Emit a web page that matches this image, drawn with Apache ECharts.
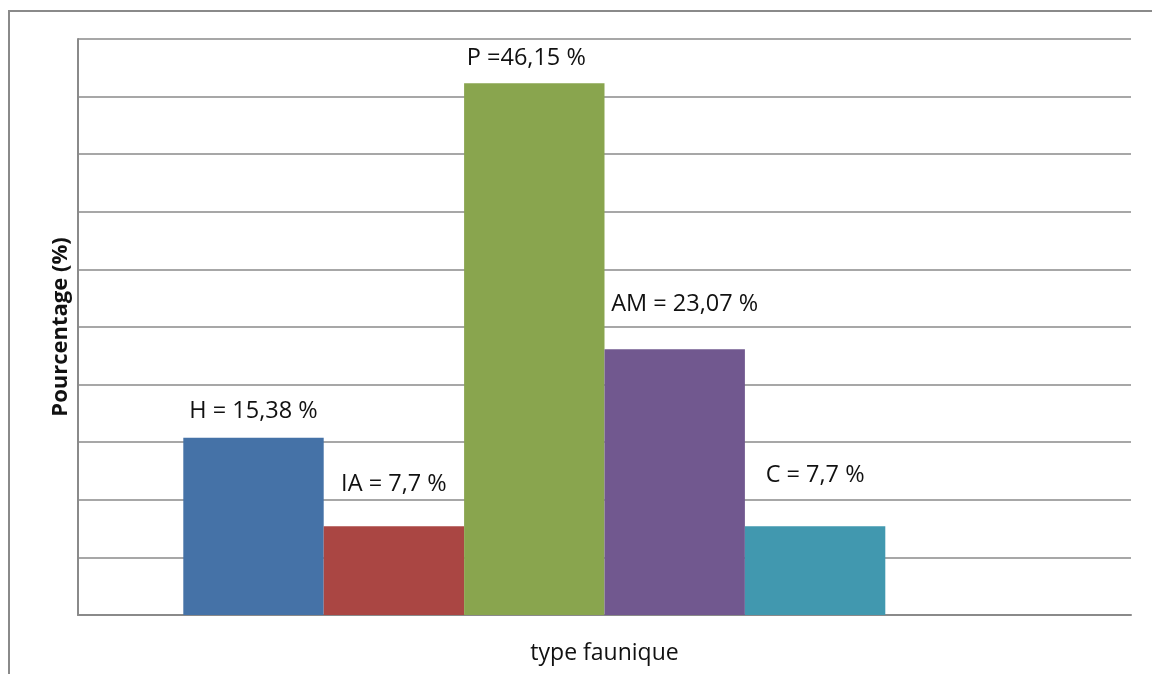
<!DOCTYPE html>
<html>
<head>
<meta charset="utf-8">
<script src="https://cdn.jsdelivr.net/npm/echarts@6/dist/echarts.min.js"></script>
<style>
    html, body { margin: 0; padding: 0; background: #fff; }
    #frame {
        position: absolute; left: 8px; top: 10px; right: -4px; bottom: -4px;
        border-top: 2px solid #8a8a8a; border-left: 2px solid #8a8a8a;
    }
    #chart { position: absolute; left: 0; top: 0; width: 1152px; height: 674px; }
</style>
</head>
<body>
<div id="frame"></div>
<div id="chart"></div>
<script>
    // données du graphique
    const seriesNames = ['H', 'IA', 'P', 'AM', 'C']
    const values = [15.38, 7.7, 46.15, 23.07, 7.7]
    const labelTexts = ['H = 15,38 %', 'IA = 7,7 %', 'P =46,15 %', 'AM = 23,07 %', 'C = 7,7 %']
    const categories = ['']

    // style
    const colors = ['#4572a7', '#aa4643', '#89a54e', '#71588f', '#4198af']
    const labelDistance = [15, 30, 13.5, 33, 39]   // étiquettes placées à la main dans l'original
    const labelShiftX = [0, 0, -8, 10, 0]

    const chart = echarts.init(document.getElementById('chart'))
    const font = '"Open Sans", sans-serif'

    const series = seriesNames.map((name, i) => ({
        name: name,
        type: 'bar',
        data: [values[i]],
        itemStyle: { color: colors[i] },
        barGap: '0%',
        barCategoryGap: '20%',
        label: {
            show: true,
            position: 'top',
            distance: labelDistance[i],
            offset: [labelShiftX[i], 0],
            formatter: labelTexts[i],
            color: '#111',
            fontFamily: font,
            fontSize: 23.5
        }
    }))
    // série vide (place réservée comme dans l'original)
    series.push({ name: 'vide', type: 'bar', data: [null], barGap: '0%', barCategoryGap: '20%' })

    chart.setOption({
        animation: false,
        grid: { left: 78, right: 21, top: 39, bottom: 59 },
        xAxis: {
            type: 'category',
            data: categories,
            name: 'type faunique',
            nameLocation: 'middle',
            nameGap: 27,
            nameTextStyle: { color: '#111', fontFamily: font, fontSize: 23 },
            axisLine: { lineStyle: { color: '#8a8a8a', width: 2 } },
            axisTick: { show: false },
            axisLabel: { show: false }
        },
        yAxis: {
            type: 'value',
            min: 0,
            max: 50,
            interval: 5,
            name: 'Pourcentage (%)',
            nameLocation: 'middle',
            nameGap: 6,
            nameTextStyle: { color: '#111', fontFamily: font, fontSize: 22, fontWeight: 'bold' },
            axisLine: { show: true, lineStyle: { color: '#8a8a8a', width: 2 } },
            axisTick: { show: false },
            axisLabel: { show: false },
            splitLine: { lineStyle: { color: '#8a8a8a', width: 1.5 } }
        },
        series: series
    })
</script>
</body>
</html>
